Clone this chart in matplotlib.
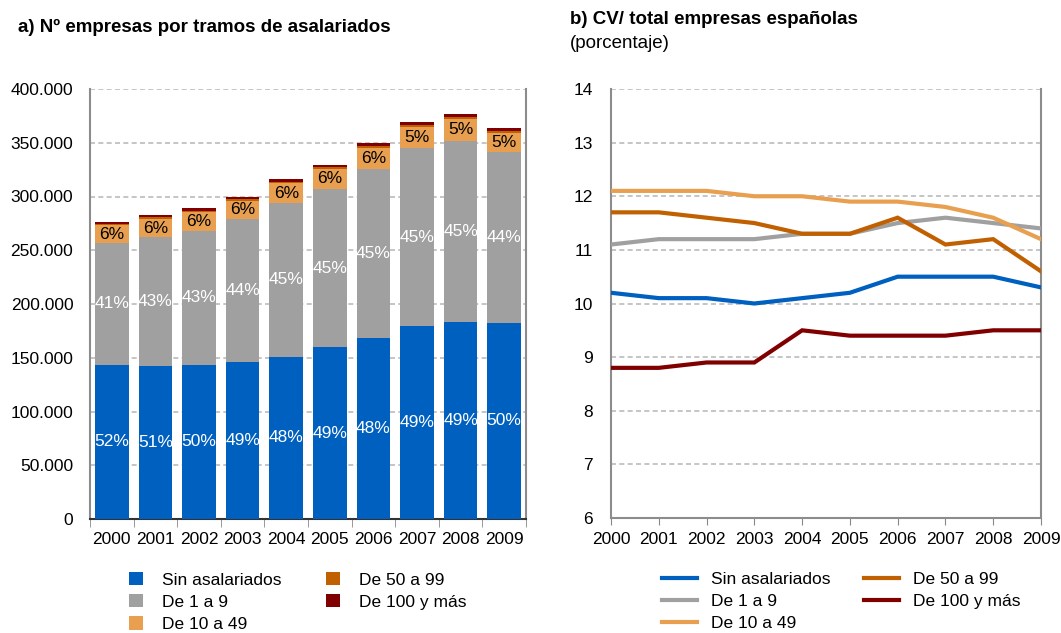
import matplotlib
matplotlib.use("Agg")
import matplotlib.pyplot as plt
from matplotlib.ticker import FuncFormatter
from matplotlib.lines import Line2D
from matplotlib.patches import Patch
import numpy as np

years = ["2000", "2001", "2002", "2003", "2004", "2005", "2006", "2007", "2008", "2009"]
series_names = ["Sin asalariados", "De 1 a 9", "De 10 a 49", "De 50 a 99", "De 100 y más"]

sin_asal = [143300, 142300, 143300, 146000, 151000, 159700, 168700, 179200, 183600, 182600]
de1a9 = [113400, 120000, 124600, 132800, 142700, 147300, 156600, 165600, 168300, 159100]
de10a49 = [16400, 16700, 17500, 17300, 18400, 18600, 20000, 19900, 20400, 17600]
de50a99 = [1500, 1500, 1550, 1600, 1650, 1700, 1800, 1800, 1850, 1700]
de100 = [2000, 2000, 2050, 2100, 2250, 2300, 2400, 2500, 2550, 2400]

pct_sin = ["52%", "51%", "50%", "49%", "48%", "49%", "48%", "49%", "49%", "50%"]
pct_1a9 = ["41%", "43%", "43%", "44%", "45%", "45%", "45%", "45%", "45%", "44%"]
pct_10a49 = ["6%", "6%", "6%", "6%", "6%", "6%", "6%", "5%", "5%", "5%"]

cv_sin = [10.2, 10.1, 10.1, 10.0, 10.1, 10.2, 10.5, 10.5, 10.5, 10.3]
cv_1a9 = [11.1, 11.2, 11.2, 11.2, 11.3, 11.3, 11.5, 11.6, 11.5, 11.4]
cv_10a49 = [12.1, 12.1, 12.1, 12.0, 12.0, 11.9, 11.9, 11.8, 11.6, 11.2]
cv_50a99 = [11.7, 11.7, 11.6, 11.5, 11.3, 11.3, 11.6, 11.1, 11.2, 10.6]
cv_100 = [8.8, 8.8, 8.9, 8.9, 9.5, 9.4, 9.4, 9.4, 9.5, 9.5]

colors = ["#0060C0", "#A0A0A0", "#E8A050", "#C06000", "#800000"]

plt.rcParams['font.family'] = ['Liberation Sans', 'DejaVu Sans']

W, H = 1061, 633
fig = plt.figure(figsize=(W / 100, H / 100), dpi=100)

def rect(x0, y0, x1, y1):
    return [x0 / W, 1 - y1 / H, (x1 - x0) / W, (y1 - y0) / H]

FS = 12.5

# ---------- Left chart ----------
ax1 = fig.add_axes(rect(90, 89, 526, 519))
x = np.arange(len(years))
stack = [sin_asal, de1a9, de10a49, de50a99, de100]
bottom = np.zeros(len(years))
bars = []
for vals, c in zip(stack, colors):
    b = ax1.bar(x, vals, bottom=bottom, width=0.77, color=c, zorder=3)
    bars.append((b, bottom.copy(), np.array(vals)))
    bottom += np.array(vals)

for (b, bot, vals), labels, tc in zip(bars[:3], [pct_sin, pct_1a9, pct_10a49], ["white", "white", "black"]):
    for xi, bo, v, lab in zip(x, bot, vals, labels):
        ax1.text(xi, bo + v / 2, lab, ha="center", va="center", color=tc, fontsize=12.5, zorder=4)

ax1.set_xlim(-0.5, len(years) - 0.5)
ax1.set_ylim(0, 400000)
ax1.set_yticks(np.arange(0, 400001, 50000))
ax1.yaxis.set_major_formatter(FuncFormatter(lambda v, p: f"{int(v):,}".replace(",", ".")))
ax1.set_xticks(x)
ax1.set_xticklabels(years)
ax1.set_xticks(np.arange(-0.5, len(years), 1), minor=True)
ax1.tick_params(axis="x", which="major", length=0, labelsize=FS, pad=9)
ax1.tick_params(axis="x", which="minor", length=6, color="#888888")
ax1.tick_params(axis="y", length=0, labelsize=FS, pad=12)
ax1.grid(axis="y", linestyle=(0, (3, 2)), color="#BBBBBB", linewidth=1.2, zorder=0)
for s in ["left", "right", "top"]:
    ax1.spines[s].set_color("#8C8C8C")
    ax1.spines[s].set_linewidth(1.5)
ax1.spines["top"].set_visible(False)
ax1.spines["bottom"].set_color("#333333")
ax1.spines["bottom"].set_linewidth(1.5)

fig.text(18 / W, 1 - 27 / H, "a) Nº empresas por tramos de asalariados", fontsize=13.5,
         fontweight="bold", va="center", ha="left")

handles1 = [Patch(facecolor=c, edgecolor="none") for c in colors]
leg1 = fig.legend(handles1, series_names, loc="upper left", bbox_to_anchor=(122 / W, 1 - 565 / H),
                  ncol=2, frameon=False, fontsize=FS, handlelength=0.8, handleheight=0.8,
                  columnspacing=2.55, labelspacing=0.38, handletextpad=1.1, borderaxespad=0)

# ---------- Right chart ----------
ax2 = fig.add_axes(rect(611, 89, 1041, 518))
cvs = [cv_sin, cv_1a9, cv_10a49, cv_50a99, cv_100]
yrs_num = np.arange(len(years))
for vals, c in zip(cvs, colors):
    ax2.plot(yrs_num, vals, color=c, linewidth=3, zorder=3, solid_joinstyle="miter")
ax2.set_xlim(0, len(years) - 1)
ax2.set_ylim(6, 14)
ax2.set_yticks(range(6, 15))
ax2.set_xticks(yrs_num)
ax2.set_xticklabels(years)
ax2.tick_params(axis="x", length=5, color="#888888", labelsize=FS, pad=5)
ax2.tick_params(axis="y", length=0, labelsize=FS, pad=13)
ax2.grid(axis="y", linestyle=(0, (3, 2)), color="#BBBBBB", linewidth=1.2, zorder=0)
for s in ["left", "right", "bottom"]:
    ax2.spines[s].set_color("#8C8C8C")
    ax2.spines[s].set_linewidth(1.5)
ax2.spines["top"].set_visible(False)

fig.text(570 / W, 1 - 20 / H, "b) CV/ total empresas españolas", fontsize=13.5,
         fontweight="bold", va="center", ha="left")
fig.text(570 / W, 1 - 44 / H, "(porcentaje)", fontsize=13.5, va="center", ha="left")

handles2 = [Line2D([0], [0], color=c, linewidth=3) for c in colors]
leg2 = fig.legend(handles2, series_names, loc="upper left", bbox_to_anchor=(655 / W, 1 - 565 / H),
                  ncol=2, frameon=False, fontsize=FS, handlelength=2.0,
                  columnspacing=1.95, labelspacing=0.38, handletextpad=0.8, borderaxespad=0)

fig.savefig("out.png", dpi=100)
